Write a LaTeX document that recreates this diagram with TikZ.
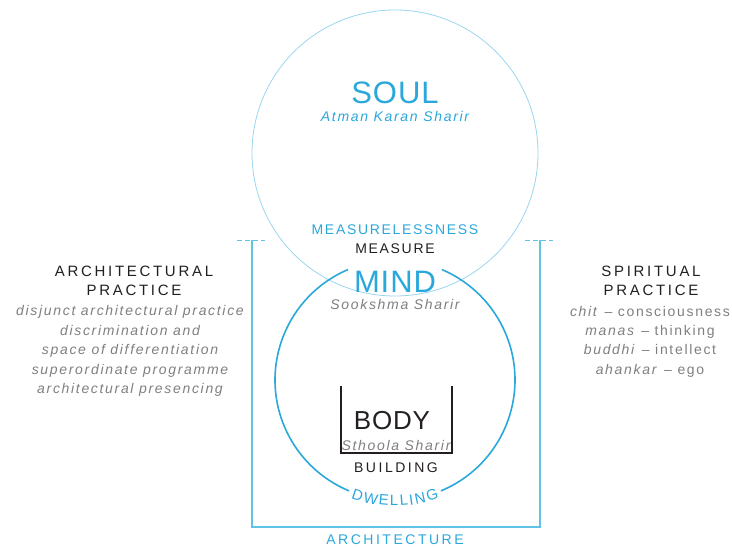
\documentclass[tikz,border=0pt]{standalone}
\usepackage{fontspec}
\setmainfont{Liberation Sans}
\newfontfamily\titlefont[LetterSpace=3]{Liberation Sans}
\newfontfamily\trackfont[LetterSpace=12]{Liberation Sans}
\newfontfamily\widefont[LetterSpace=18]{Liberation Sans}
\usetikzlibrary{positioning,decorations.text}

\definecolor{skyline}{HTML}{9AD5EE}
\definecolor{mindblue}{HTML}{2BA8DA}
\definecolor{labelblue}{HTML}{2AA7DB}
\definecolor{framecyan}{HTML}{62C2E6}
\definecolor{softgray}{HTML}{7F7F7F}
\definecolor{inkdark}{HTML}{231F20}

\begin{document}
\begin{tikzpicture}[
    x=1pt, y=1pt,
    every node/.style={inner sep=0pt, outer sep=0pt},
    bigword/.style={font=\titlefont\fontsize{31}{31}\selectfont},
    sanskrit/.style={font=\trackfont\itshape\fontsize{14}{14}\selectfont},
    caps/.style={font=\trackfont\fontsize{14}{14}\selectfont},
    widecaps/.style={font=\widefont\fontsize{14}{14}\selectfont},
    heading/.style={align=center, text=inkdark, font=\widefont\fontsize{15}{19}\selectfont},
    list/.style={align=center, text=softgray, font=\trackfont\fontsize{14}{19.4}\selectfont},
    ring/.style={line width=1.6pt, draw=mindblue},
    frame/.style={line width=1.1pt, draw=framecyan}
]
\useasboundingbox (0,0) rectangle (732,-548);

% soul and mind circles
\draw[draw=skyline, line width=0.8pt] (395,-153) circle (143);
\draw[ring] (395,-380) ++(113:120) arc (113:247.5:120);
\draw[ring] (395,-380) ++(292.5:120) arc (292.5:427:120);

% architecture frame
\draw[frame] (252,-240) -- (252,-527) -- (540,-527) -- (540,-240);
\draw[frame, line width=0.8pt, dash pattern=on 5pt off 3pt] (237,-240) -- (265,-240);
\draw[frame, line width=0.8pt, dash pattern=on 5pt off 3pt] (525,-240) -- (553,-240);

% building cup
\draw[inkdark, line width=1.2pt] (341,-386) -- (341,-453) -- (452,-453) -- (452,-386);

\node[bigword, text=labelblue] (soul) at (395,-93) {SOUL};
\node[sanskrit, text=labelblue] (atman) at (395,-116) {Atman Karan Sharir};
\node[caps, text=labelblue] (measureless) at (395,-230) {MEASURELESSNESS};
\node[caps, text=inkdark] (measure) at (395,-249) {MEASURE};
\node[bigword, text=labelblue] (mind) at (395,-282) {MIND};
\node[sanskrit, text=softgray] (sookshma) at (395,-304) {Sookshma Sharir};
\node[font=\titlefont\fontsize{26}{26}\selectfont, text=inkdark] (body) at (392,-421) {BODY};
\node[sanskrit, text=softgray] (sthoola) at (396,-445) {Sthoola Sharir};
\node[widecaps, text=inkdark] (building) at (396,-468) {BUILDING};
\node[widecaps, text=labelblue] (architecture) at (395,-540) {ARCHITECTURE};

\path[decorate, decoration={text along path, text align={fit to path}, text color=labelblue,
    text={|\fontsize{15}{15}\selectfont|DWELLING}}]
    (395,-380) ++(249.5:126) arc (249.5:290.5:126);

\node[heading] (archhead) at (134,-280.5) {ARCHITECTURAL\\PRACTICE};
\node[list, font=\trackfont\itshape\fontsize{14}{19.4}\selectfont] (archlist) at (130,-351)
    {disjunct architectural practice\\discrimination and\\space of differentiation\\superordinate programme\\architectural presencing};

\node[heading] (spirhead) at (651,-280.5) {SPIRITUAL\\PRACTICE};
\node[list] (spirlist) at (650,-341.5)
    {\textit{chit} – consciousness\\\textit{manas} – thinking\\\textit{buddhi} – intellect\\\textit{ahankar} – ego};
\end{tikzpicture}
\end{document}
